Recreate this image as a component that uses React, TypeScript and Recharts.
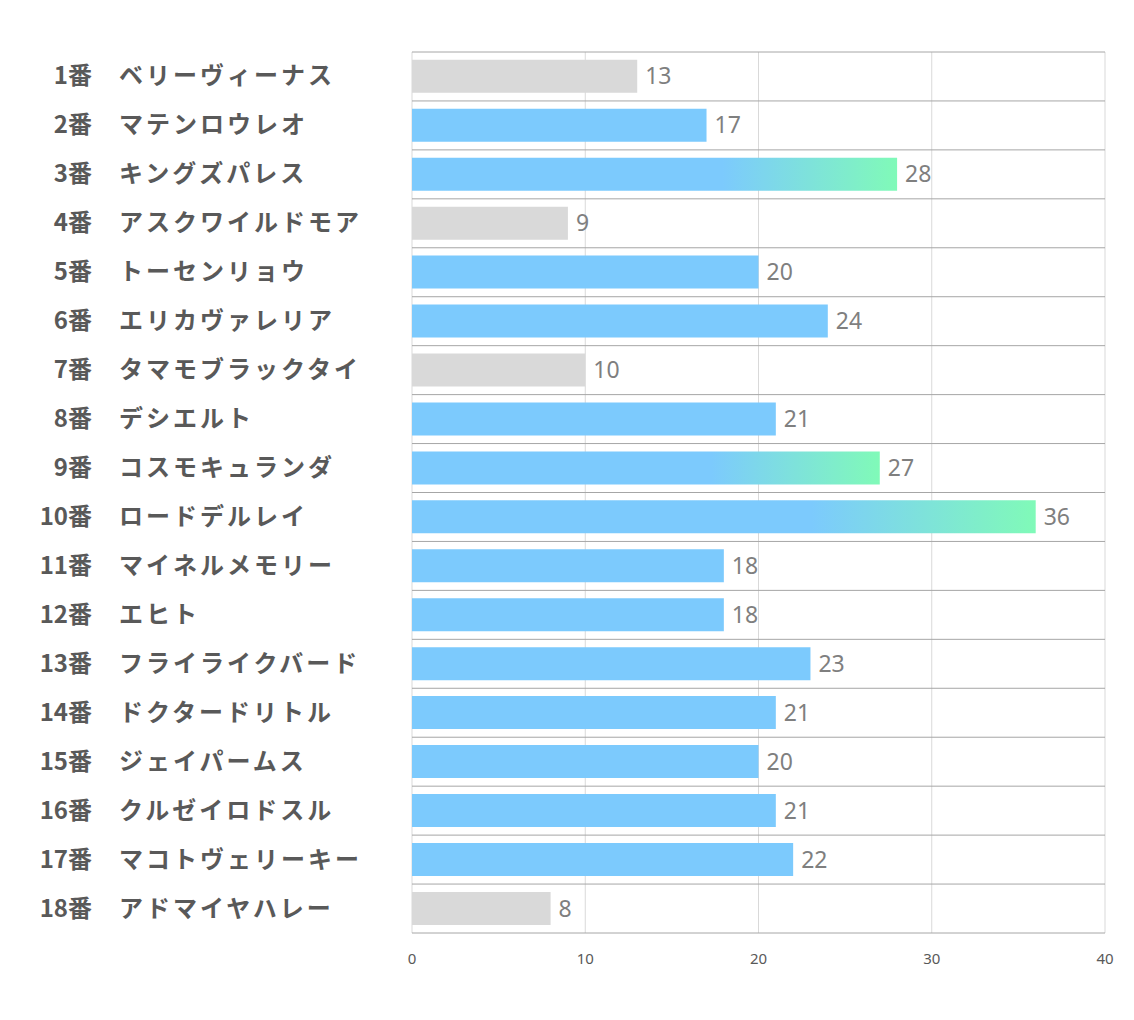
import { BarChart, Bar, XAxis, YAxis, CartesianGrid, Cell, LabelList } from "recharts";

const horseNumbers = [1, 2, 3, 4, 5, 6, 7, 8, 9, 10, 11, 12, 13, 14, 15, 16, 17, 18];
const horseNames = [
  "ベリーヴィーナス",
  "マテンロウレオ",
  "キングズパレス",
  "アスクワイルドモア",
  "トーセンリョウ",
  "エリカヴァレリア",
  "タマモブラックタイ",
  "デシエルト",
  "コスモキュランダ",
  "ロードデルレイ",
  "マイネルメモリー",
  "エヒト",
  "フライライクバード",
  "ドクタードリトル",
  "ジェイパームス",
  "クルゼイロドスル",
  "マコトヴェリーキー",
  "アドマイヤハレー",
];
const scores = [13, 17, 28, 9, 20, 24, 10, 21, 27, 36, 18, 18, 23, 21, 20, 21, 22, 8];
const greyedNumbers = [1, 4, 7, 18];
const xTicks = [0, 10, 20, 30, 40];

const topThree = [...scores].sort((a, b) => b - a).slice(0, 3);

const chartData = horseNumbers.map((n, i) => ({
  key: `${n}番`,
  num: `${n}番`,
  name: horseNames[i],
  score: scores[i],
}));

const GREY = "#d9d9d9";
const BLUE = "#7ccafd";
const GREEN = "#80fab8";

function NameTick(props: any) {
  const { x, y, payload } = props;
  const row = chartData[payload.index] ?? chartData.find((d) => d.key === payload.value);
  return (
    <g>
      <text
        x={x - 312}
        y={y}
        dy={8}
        textAnchor="end"
        fill="#595959"
        fontSize={24}
        fontWeight="bold"
        fontFamily="'Noto Sans CJK JP', sans-serif"
      >
        {row?.num}
      </text>
      <text
        x={x - 285}
        y={y}
        dy={8}
        textAnchor="start"
        fill="#595959"
        fontSize={24}
        letterSpacing={3}
        fontWeight="bold"
        fontFamily="'Noto Sans CJK JP', sans-serif"
      >
        {row?.name}
      </text>
    </g>
  );
}

function fillFor(i: number) {
  if (greyedNumbers.includes(horseNumbers[i])) return GREY;
  if (topThree.includes(scores[i])) return "url(#barFade)";
  return BLUE;
}

export default function App() {
  return (
    <div style={{ width: 1126, height: 1000, background: "#fff" }}>
      <BarChart
        width={1126}
        height={1000}
        data={chartData}
        layout="vertical"
        margin={{ top: 44, right: 29, left: 0, bottom: 35 }}
        barCategoryGap="16%"
      >
        <defs>
          <linearGradient id="barFade" x1="0" y1="0" x2="1" y2="0">
            <stop offset="0%" stopColor={BLUE} />
            <stop offset="64%" stopColor={BLUE} />
            <stop offset="100%" stopColor={GREEN} />
          </linearGradient>
        </defs>
        <CartesianGrid horizontal={false} stroke="#d9d9d9" strokeWidth={1} />
        <CartesianGrid
          vertical={false}
          stroke="#a6a6a6"
          strokeWidth={1}
          horizontalCoordinatesGenerator={({ offset }: any) =>
            Array.from({ length: chartData.length + 1 }, (_, i) => offset.top + (i * offset.height) / chartData.length)
          }
        />
        <XAxis
          type="number"
          domain={[0, 40]}
          ticks={xTicks}
          axisLine={false}
          tickLine={false}
          height={40}
          tick={{ fill: "#595959", fontSize: 15, fontFamily: "'Liberation Sans Narrow', 'Noto Sans', sans-serif" }}
          tickMargin={14}
        />
        <YAxis
          type="category"
          dataKey="key"
          width={404}
          axisLine={false}
          tickLine={false}
          interval={0}
          tick={<NameTick />}
        />
        <Bar dataKey="score" isAnimationActive={false}>
          {chartData.map((d, i) => (
            <Cell key={d.key} fill={fillFor(i)} />
          ))}
          <LabelList
            dataKey="score"
            position="right"
            offset={8}
            fill="#7f7f7f"
            fontSize={23}
            fontFamily="'Noto Sans', sans-serif"
          />
        </Bar>
      </BarChart>
    </div>
  );
}
